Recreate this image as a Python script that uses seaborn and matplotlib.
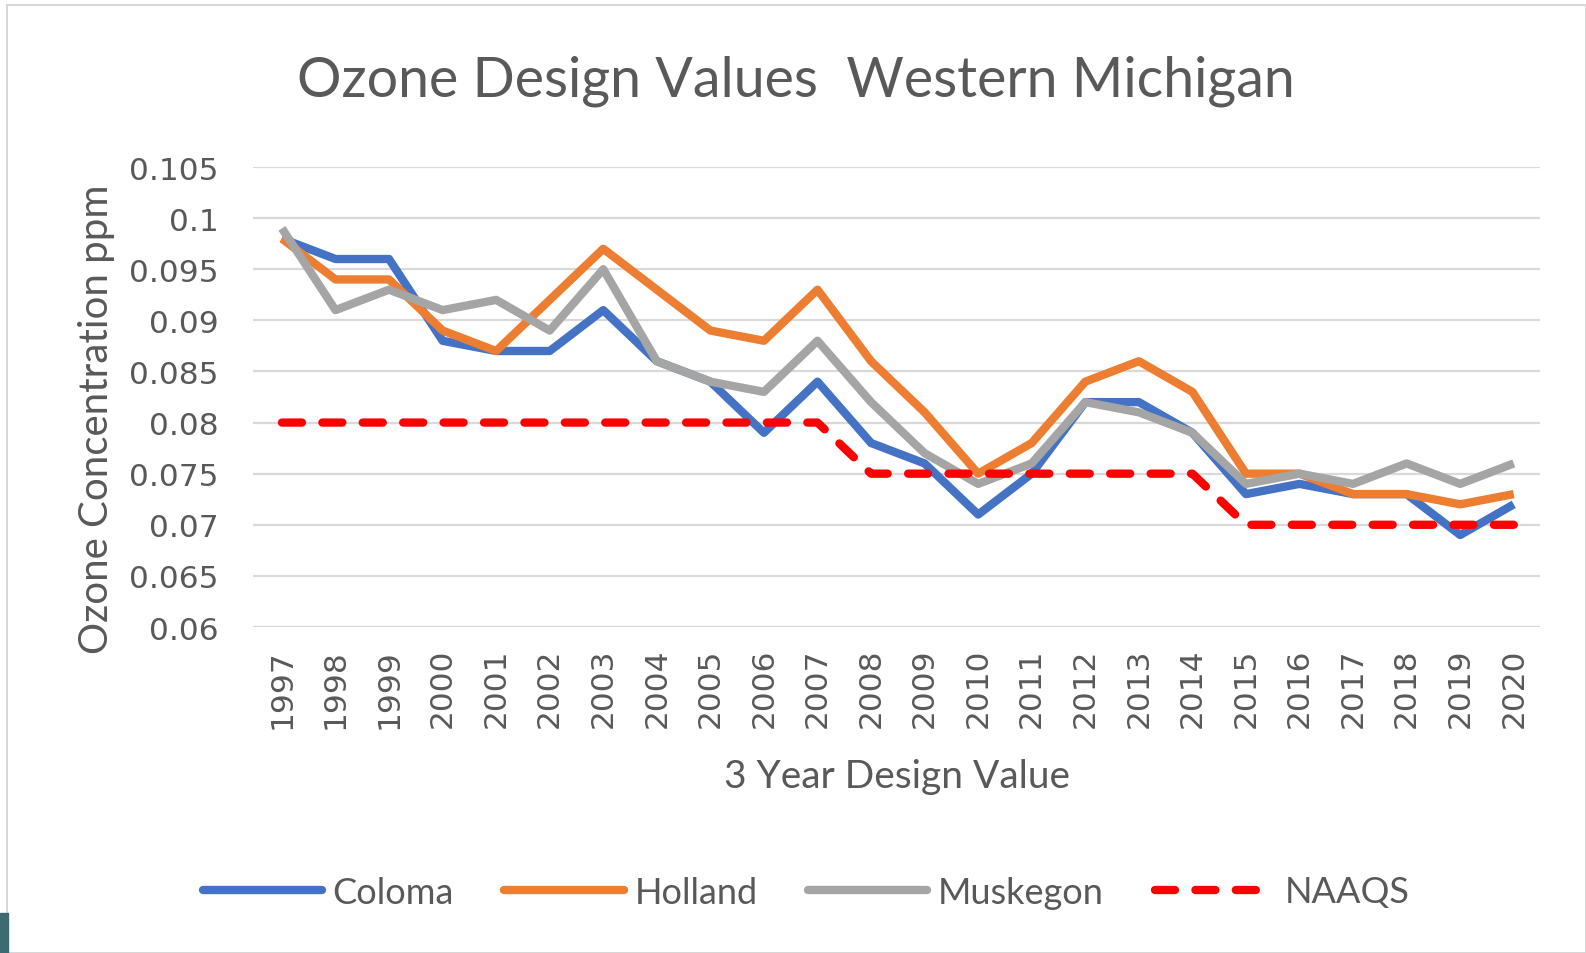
import pandas as pd
import matplotlib.pyplot as plt
import seaborn as sns
from matplotlib.patches import Rectangle

# Values (ppm)
years = list(range(1997, 2021))
coloma = [0.098, 0.096, 0.096, 0.088, 0.087, 0.087, 0.091, 0.086, 0.084, 0.079, 0.084, 0.078,
          0.076, 0.071, 0.075, 0.082, 0.082, 0.079, 0.073, 0.074, 0.073, 0.073, 0.069, 0.072]
holland = [0.098, 0.094, 0.094, 0.089, 0.087, 0.092, 0.097, 0.093, 0.089, 0.088, 0.093, 0.086,
           0.081, 0.075, 0.078, 0.084, 0.086, 0.083, 0.075, 0.075, 0.073, 0.073, 0.072, 0.073]
muskegon = [0.099, 0.091, 0.093, 0.091, 0.092, 0.089, 0.095, 0.086, 0.084, 0.083, 0.088, 0.082,
            0.077, 0.074, 0.076, 0.082, 0.081, 0.079, 0.074, 0.075, 0.074, 0.076, 0.074, 0.076]
naaqs = [0.080] * 11 + [0.075] * 7 + [0.070] * 6
y_ticks = [0.06, 0.065, 0.07, 0.075, 0.08, 0.085, 0.09, 0.095, 0.1, 0.105]
y_tick_labels = ['0.06', '0.065', '0.07', '0.075', '0.08', '0.085', '0.09', '0.095', '0.1', '0.105']

series = {'Coloma': coloma, 'Holland': holland, 'Muskegon': muskegon, 'NAAQS': naaqs}
data = pd.concat([pd.DataFrame({'year': years, 'value': v, 'site': k}) for k, v in series.items()],
                 ignore_index=True)

palette = {'Coloma': '#4472C4', 'Holland': '#ED7D31', 'Muskegon': '#A5A5A5', 'NAAQS': '#FF0000'}
dashes = {'Coloma': '', 'Holland': '', 'Muskegon': '', 'NAAQS': (2.4, 2.45)}

sns.set_theme(style='white')
plt.rcParams['lines.dash_capstyle'] = 'round'
plt.rcParams['lines.solid_capstyle'] = 'butt'
plt.rcParams['font.family'] = ['DejaVu Sans']

W, H = 1586, 954
fig = plt.figure(figsize=(W / 100, H / 100), dpi=100)
ax = fig.add_axes([253 / W, 1 - 628 / H, (1540 - 253) / W, (628 - 168) / H])

sns.lineplot(data=data, x='year', y='value', hue='site', style='site', palette=palette,
             dashes=dashes, lw=6, ax=ax, legend=False)

ax.set_ylim(0.06, 0.105)
ax.set_xlim(1996.46, 2020.49)
ax.set_yticks(y_ticks)
ax.set_yticklabels(y_tick_labels)
ax.set_xticks(years)
ax.set_xticklabels([str(y) for y in years], rotation=90)
ax.tick_params(axis='both', length=0, labelsize=22.5, colors='#595959')
ax.tick_params(axis='x', pad=15)
ax.tick_params(axis='y', pad=25)
ax.yaxis.grid(True, color='#D9D9D9', lw=1.6)
ax.set_axisbelow(True)
for s in ax.spines.values():
    s.set_visible(False)

ax.set_xlabel('3 Year Design Value', fontsize=28, color='#595959', family='Lato', labelpad=22)
ax.set_ylabel('Ozone Concentration ppm', fontsize=29, color='#595959', family='Lato', labelpad=10)
ax.yaxis.label.set_y(0.453)
fig.text(796 / W, 1 - 81 / H, 'Ozone Design Values  Western Michigan', ha='center', va='center',
         fontsize=40, color='#595959', family='Lato')

handles = []
for line in ax.lines:
    line.set_dash_capstyle('round')
for k in series:
    h, = ax.plot([], [], color=palette[k], lw=6,
                 linestyle=(0, (2.4, 2.45)) if k == 'NAAQS' else '-',
                 dash_capstyle='round', solid_capstyle='round')
    handles.append(h)
fig.legend(handles, list(series), loc='center', bbox_to_anchor=(806 / W, 1 - 893 / H), ncol=4,
           frameon=False, prop={'family': 'Lato', 'size': 26}, labelcolor='#595959',
           handlelength=3.3, handletextpad=0.3, columnspacing=1.4)

# slide border and corner accent
fig.patches.append(Rectangle((7 / W, 0), 1 - 7 / W, 1 - 6 / H, transform=fig.transFigure,
                             fill=False, edgecolor='#D0D0D0', lw=1.2))
fig.patches.append(Rectangle((0, 0), 8 / W, 40 / H, transform=fig.transFigure,
                             color='#3E6B72'))

fig.savefig('out.png', dpi=100)
